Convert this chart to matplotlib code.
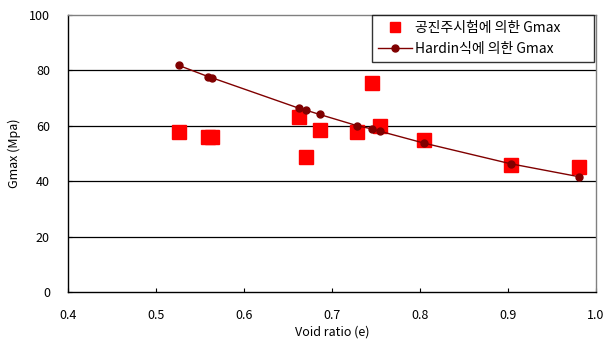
import matplotlib
matplotlib.use("Agg")
import matplotlib.pyplot as plt
from matplotlib.lines import Line2D

plt.rcParams['font.family'] = ['Noto Sans CJK KR', 'DejaVu Sans']

# Void ratio of each specimen
void_ratio = [0.526, 0.559, 0.564, 0.662, 0.670, 0.686, 0.728, 0.745, 0.755, 0.804, 0.903, 0.981]
# Gmax from resonant column tests (MPa)
gmax_test = [57.9, 55.8, 55.8, 63.3, 48.9, 58.4, 57.8, 75.4, 60.1, 55.0, 46.0, 45.2]
# Gmax from Hardin's equation (MPa)
gmax_hardin = [81.8, 77.8, 77.3, 66.4, 65.7, 64.1, 60.1, 58.9, 58.0, 53.8, 46.3, 41.6]

label_test = "공진주시험에 의한 Gmax"
label_hardin = "Hardin식에 의한 Gmax"
x_ticks = [0.4, 0.5, 0.6, 0.7, 0.8, 0.9, 1.0]
y_ticks = [0, 20, 40, 60, 80, 100]

fig = plt.figure(figsize=(6.04, 3.42), dpi=100)
ax = fig.add_axes([0.1126, 0.1462, 0.8742, 0.8098])

for yv in y_ticks[1:-1]:
    ax.axhline(yv, color='black', lw=0.9, zorder=1)

ax.plot(void_ratio, gmax_test, linestyle='none', marker='s', markersize=9.5,
        color='#FF0000', markeredgecolor='#FF0000', zorder=3)
ax.plot(void_ratio, gmax_hardin, linestyle='-', color='#800000', lw=1.0,
        marker='o', markersize=5, markerfacecolor='#800000',
        markeredgecolor='#800000', zorder=4)

ax.set_xlim(0.4, 1.0)
ax.set_ylim(0, 100)
ax.set_xticks(x_ticks)
ax.set_xticklabels([f"{v:.1f}" for v in x_ticks])
ax.set_yticks(y_ticks)
ax.tick_params(axis='both', direction='in', length=3, labelsize=9, colors='black')
ax.tick_params(axis='x', pad=12)
ax.tick_params(axis='y', pad=13)

ax.spines['left'].set_color('black')
ax.spines['bottom'].set_color('black')
ax.spines['top'].set_color('#808080')
ax.spines['right'].set_color('#808080')
for s in ax.spines.values():
    s.set_linewidth(1.0)

ax.set_xlabel("Void ratio (e)", fontsize=9, labelpad=3)
ax.set_ylabel("Gmax (Mpa)", fontsize=9, labelpad=6)

# Legend keys: smaller square for the test results, line + dot for Hardin
key_test = Line2D([], [], linestyle='none', marker='s', markersize=7,
                  color='#FF0000', markeredgecolor='#FF0000')
key_hardin = Line2D([], [], linestyle='-', color='#800000', lw=1.0,
                    marker='o', markersize=5, markerfacecolor='#800000',
                    markeredgecolor='#800000')

leg = ax.legend([key_test, key_hardin], [label_test, label_hardin],
                loc='upper left', bbox_to_anchor=(0.576, 0.812, 0.42, 0.188),
                mode='expand', fontsize=10,
                frameon=True, fancybox=False, shadow=False, borderpad=0.45,
                handlelength=2.4, handletextpad=0.25, labelspacing=0.45,
                borderaxespad=0)
leg.get_frame().set_edgecolor('black')
leg.get_frame().set_linewidth(1.0)

fig.savefig("out.png", dpi=100)
